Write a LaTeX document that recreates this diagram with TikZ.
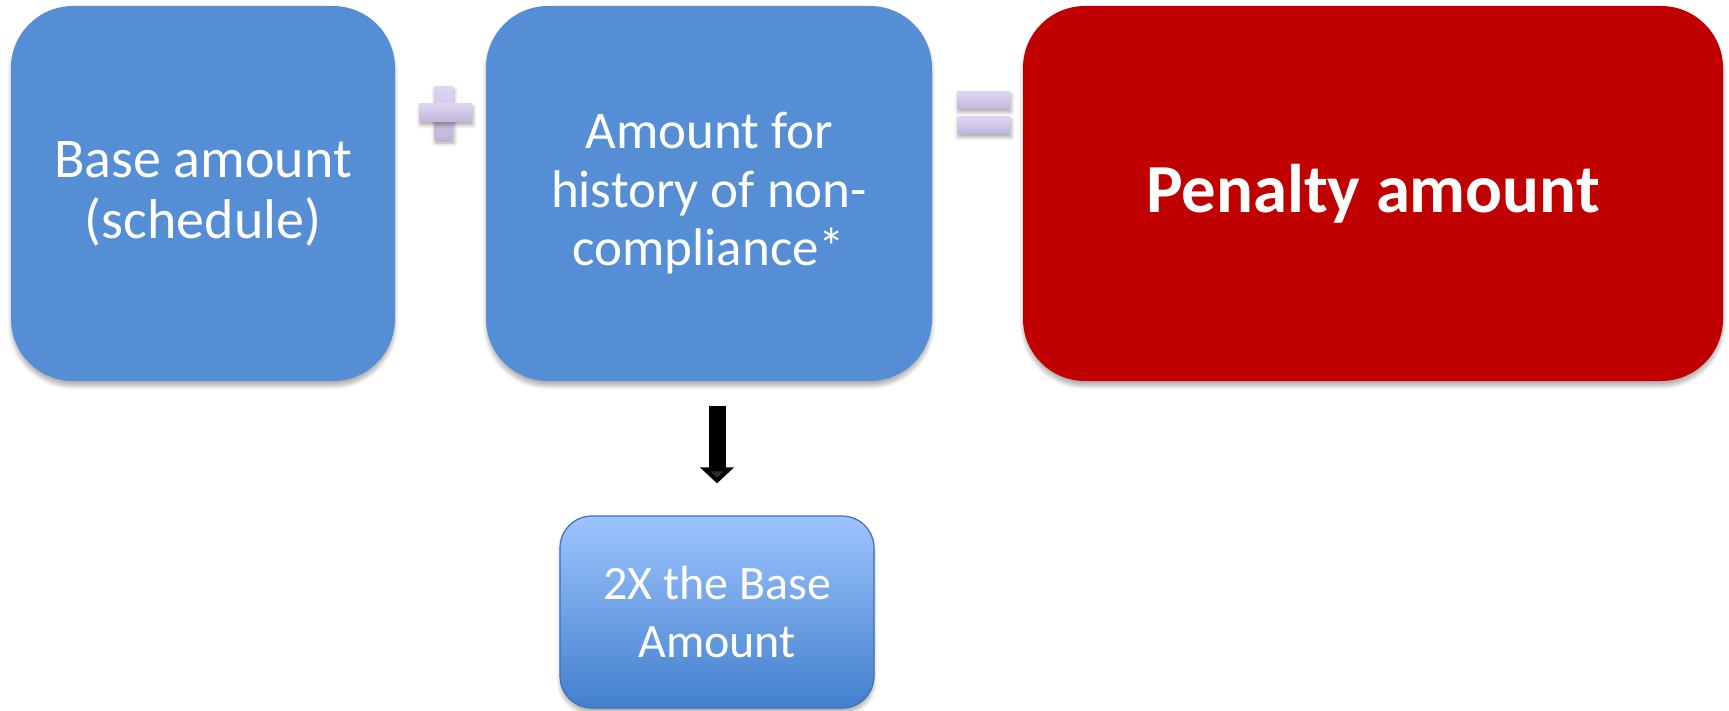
\documentclass[tikz,border=0pt]{standalone}
\usepackage{fontspec}
\setmainfont{Carlito}
\usetikzlibrary{arrows.meta,shadows.blur}
\definecolor{boxblue}{RGB}{85,142,213}
\definecolor{boxred}{RGB}{192,0,0}
\definecolor{lowtop}{RGB}{158,196,255}
\definecolor{lowbot}{RGB}{66,128,204}
\definecolor{lowedge}{RGB}{62,110,186}
\definecolor{signtop}{RGB}{222,212,242}
\definecolor{signbot}{RGB}{194,182,218}
\begin{document}
\begin{tikzpicture}[x=0.5pt,y=-0.5pt,
    termbox/.style={rounded corners=31pt,minimum height=187.5pt,align=center,text=white,
      font=\fontsize{28}{30.5}\selectfont,inner sep=0pt,
      blur shadow={shadow xshift=0pt,shadow yshift=-2.5pt,shadow blur steps=6,shadow opacity=30}},
    signbar/.style={top color=signtop,bottom color=signbot,draw=none,
      blur shadow={shadow xshift=0.5pt,shadow yshift=-1.5pt,shadow blur steps=4,shadow opacity=35}}]
  \useasboundingbox (0,0) rectangle (1729,711);
  \node[termbox,fill=boxblue,minimum width=192pt] (base) at (203,193.5) {Base amount\\(schedule)};
  \node[termbox,fill=boxblue,minimum width=223pt,font=\fontsize{26.5}{29.2}\selectfont] (hist) at (709,193.5) {Amount for\\history of non-\\compliance*};
  \node[termbox,fill=boxred,minimum width=350pt,font=\fontsize{34.4}{40}\selectfont\bfseries] (pen) at (1373,193.5) {Penalty amount};
  \node[termbox,rounded corners=16pt,minimum width=157pt,minimum height=96pt,top color=lowtop,bottom color=lowbot,
    draw=lowedge,line width=0.6pt,font=\fontsize{24}{28.7}\selectfont] (low) at (717,612) {2X the Base\\Amount};
  % plus and equals signs
  \fill[signbar] (434,87) rectangle (453,140);
  \fill[signbar] (419,104) rectangle (472,122);
  \fill[signbar] (957,92) rectangle (1010,109);
  \fill[signbar] (957,117) rectangle (1010,134);
  \draw[-{Triangle[width=16.5pt,length=8pt]},line width=8.5pt,shorten <=12.5pt,shorten >=16pt]
    (low.north |- hist.south) -- (low.north);
\end{tikzpicture}
\end{document}
